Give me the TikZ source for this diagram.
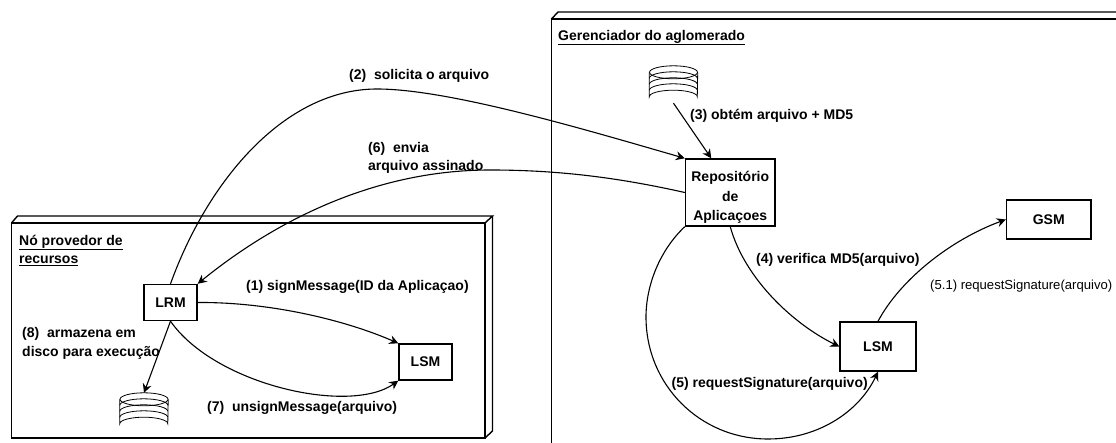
\documentclass[tikz,border=0pt]{standalone}
\usepackage{fontspec}
\setmainfont{Liberation Sans}
\usetikzlibrary{arrows.meta, positioning, calc}

\tikzset{
  caixa/.style={draw=black, line width=1.4pt, fill=white, inner sep=0pt, align=center, font=\rotulofont},
  rotulo/.style={inner sep=0pt, anchor=west, align=left, font=\rotulofont},
  seta/.style={draw=black, line width=1.1pt, -{Stealth[length=9pt, width=9pt, inset=3pt]}},
  no/.style={draw=black, line width=1.4pt},
  disco/.style={inner sep=0pt, minimum width=48pt, minimum height=37pt},
}
\newcommand{\rotulofont}{\fontsize{14}{18.5}\bfseries\selectfont}
\newcommand{\desenhadisco}[1]{
  \draw[line width=0.8pt, fill=white] ($(#1.north west)+(0,6.5)$) -- ($(#1.south west)+(0,-6.5)$) arc[start angle=180, end angle=360, x radius=24, y radius=6.5] -- ($(#1.north east)+(0,6.5)$);
  \draw[line width=0.8pt, fill=white] ($(#1.north)+(0,6.5)$) ellipse[x radius=24, y radius=6.5];
  \foreach \i in {1,2,3} {
    \draw[line width=0.8pt] ($(#1.north west)+(0,6.5+\i*6)$) arc[start angle=180, end angle=360, x radius=24, y radius=6.5];
  }
}

\begin{document}
\begin{tikzpicture}[x=1pt, y=-1pt]
  \useasboundingbox (0, 0) rectangle (1116, 443);

  % no provedor
  \draw[no] (11.5, 223) rectangle (485, 438);
  \draw[no] (11.5, 223) -- (17.5, 216) -- (492.5, 216) -- (485, 223);
  \draw[no] (492.5, 216) -- (492.5, 431) -- (485, 438);

  % gerenciador
  \draw[no] (1116, 19) -- (551.5, 19) -- (551.5, 443);
  \draw[no] (551.5, 19) -- (558, 12) -- (1116, 12);

  \node[rotulo] (tituloNo) at (19, 250.5) {\underline{Nó provedor de}\\\underline{recursos}};
  \node[rotulo] (tituloGer) at (558, 37.5) {\underline{Gerenciador do aglomerado}};

  \node[caixa, minimum width=53pt, minimum height=36pt] (lrm) at (170.5, 302.5) {LRM};
  \node[caixa, minimum width=53pt, minimum height=36pt] (lsmA) at (425.5, 362) {LSM};
  \node[caixa, minimum width=89.5pt, minimum height=67pt] (repo) at (730.25, 192.5) {\rule{0pt}{20pt}Repositório\\[1pt]de\\[1pt]Aplicaçoes};
  \node[caixa, minimum width=84.5pt, minimum height=39pt] (gsm) at (1048.75, 219.5) {GSM};
  \node[caixa, minimum width=76pt, minimum height=49pt] (lsmB) at (878, 346.5) {LSM};

  \node[disco] (discoA) at (144, 411.5) {};
  \node[disco] (discoB) at (673.5, 84.5) {};
  \desenhadisco{discoA}
  \desenhadisco{discoB}

  \path[seta] (lrm.north) .. controls (208, 180) and (285, 89) .. (377, 89) .. controls (450, 89) and (590, 131) .. (repo.north west);
  \path[seta] (repo.west) .. controls (620, 178) and (560, 170) .. (490, 170) .. controls (370, 170) and (270, 225) .. (lrm.north east);
  \path[seta] (lrm.east) .. controls (270, 302) and (345, 320) .. (lsmA.north west);
  \path[seta] (lrm.south) .. controls (215, 385) and (350, 415) .. (lsmA.south west);
  \path[seta] (lrm.south) -- (discoA.north);
  \path[seta] (discoB.south) -- ($(repo.north)+(-19, 0)$);
  \path[seta] (repo.south) .. controls (745, 280) and (795, 325) .. (lsmB.west);
  \path[seta] (repo.south west) .. controls (660, 250) and (646, 285) .. (646, 317) .. controls (646, 385) and (700, 439) .. (768, 439) .. controls (820, 439) and (860, 410) .. (lsmB.south);
  \path[seta] (lsmB.north) .. controls (900, 280) and (950, 240) .. (gsm.west);

  \node[rotulo] (rot2) at (349, 75.5) {(2)\ \ solicita o arquivo};
  \node[rotulo] (rot6) at (368, 158) {(6)\ \ envia\\arquivo assinado};
  \node[rotulo] (rot3) at (690, 115.5) {(3) obtém arquivo + MD5};
  \node[rotulo] (rot1) at (246, 286.5) {(1) signMessage(ID da Aplicaçao)};
  \node[rotulo] (rot8) at (22, 343.5) {(8)\ \ armazena em\\disco para execução};
  \node[rotulo] (rot7) at (207, 407.5) {(7)\ \ unsignMessage(arquivo)};
  \node[rotulo] (rot4) at (756, 259.5) {(4) verifica MD5(arquivo)};
  \node[rotulo] (rot5) at (671.5, 383.5) {(5) requestSignature(arquivo)};
  \node[rotulo, font=\fontsize{13.1}{18}\selectfont] (rot51) at (930, 286.5) {(5.1) requestSignature(arquivo)};
\end{tikzpicture}
\end{document}
